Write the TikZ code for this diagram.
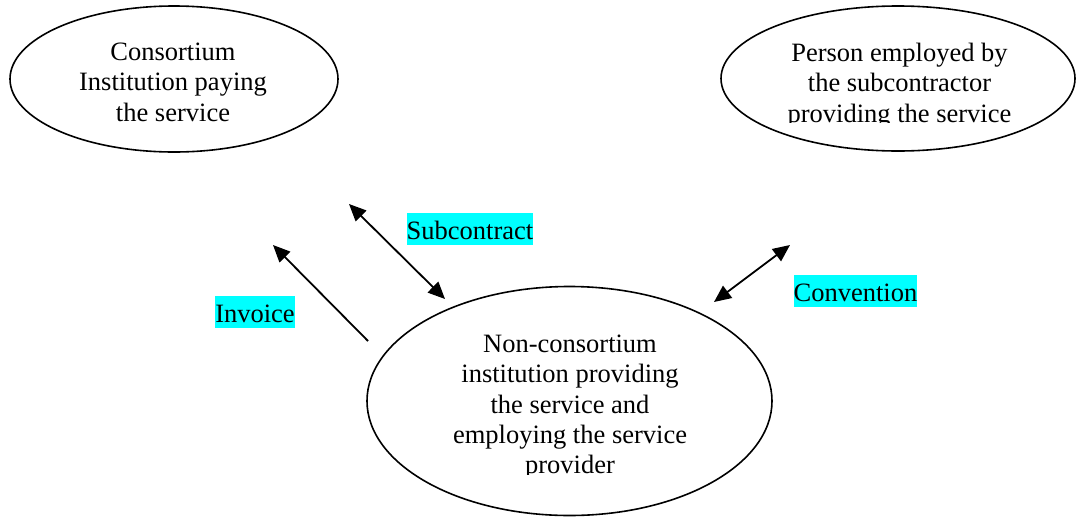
\documentclass[tikz,border=0pt]{standalone}
\usepackage{fontspec}
\setmainfont{Liberation Serif}
\usetikzlibrary{shapes.geometric,arrows.meta}
\definecolor{hlcyan}{RGB}{0,255,255}
\begin{document}
\begin{tikzpicture}[x=1pt,y=-1pt,
  ell/.style={draw,ellipse,line width=1.6pt,inner sep=0pt},
  txt/.style={anchor=base,inner sep=0pt,font=\fontsize{26.5pt}{30pt}\selectfont},
  hl/.style={fill=hlcyan,inner xsep=0pt,inner ysep=0pt,text height=26pt,text depth=6pt,font=\fontsize{26.5pt}{30pt}\selectfont},
  tip/.tip={Triangle[length=17pt,width=15pt]},
  arr/.style={line width=1.8pt,-tip},
  darr/.style={line width=1.8pt,tip-tip}]
\useasboundingbox (0,0) rectangle (1076,517);
% ellipses
\node[ell,minimum width=328pt,minimum height=146pt] (e1) at (174,79) {};
\node[ell,minimum width=354pt,minimum height=145pt] (e2) at (898,78.5) {};
\node[ell,minimum width=405pt,minimum height=229pt] (e3) at (569.5,401) {};
% texts
\begin{scope}
\clip (0,0) rectangle (360,122.5);
\node[txt] (t11) at (173,60) {Consortium};
\node[txt] (t12) at (173,90.5) {Institution paying};
\node[txt] (t13) at (173,121) {the service};
\end{scope}
\begin{scope}
\clip (700,0) rectangle (1076,122.5);
\node[txt] (t21) at (899.5,61) {Person employed by};
\node[txt] (t22) at (899.5,91.5) {the subcontractor};
\node[txt] (t23) at (899.5,122) {providing the service};
\end{scope}
\begin{scope}
\clip (360,300) rectangle (780,474);
\node[txt] (t31) at (570,352) {Non-consortium};
\node[txt] (t32) at (570,382.5) {institution providing};
\node[txt] (t33) at (570,413) {the service and};
\node[txt] (t34) at (570,443) {employing the service};
\node[txt] (t35) at (570,473.5) {provider};
\end{scope}
% labels
\node[hl] (lsub) at (470,229) {Subcontract};
\node[hl] (linv) at (255,312) {Invoice};
\node[hl] (lcon) at (855.5,291) {Convention};
% connectors
\coordinate (invA) at (368,341);
\coordinate (invB) at (273,245);
\coordinate (subA) at (349,204);
\coordinate (subB) at (445,299);
\coordinate (conA) at (790,245);
\coordinate (conB) at (714,302);
\draw[arr] (invA) -- (invB);
\draw[darr] (subA) -- (subB);
\draw[darr] (conA) -- (conB);
\end{tikzpicture}
\end{document}
